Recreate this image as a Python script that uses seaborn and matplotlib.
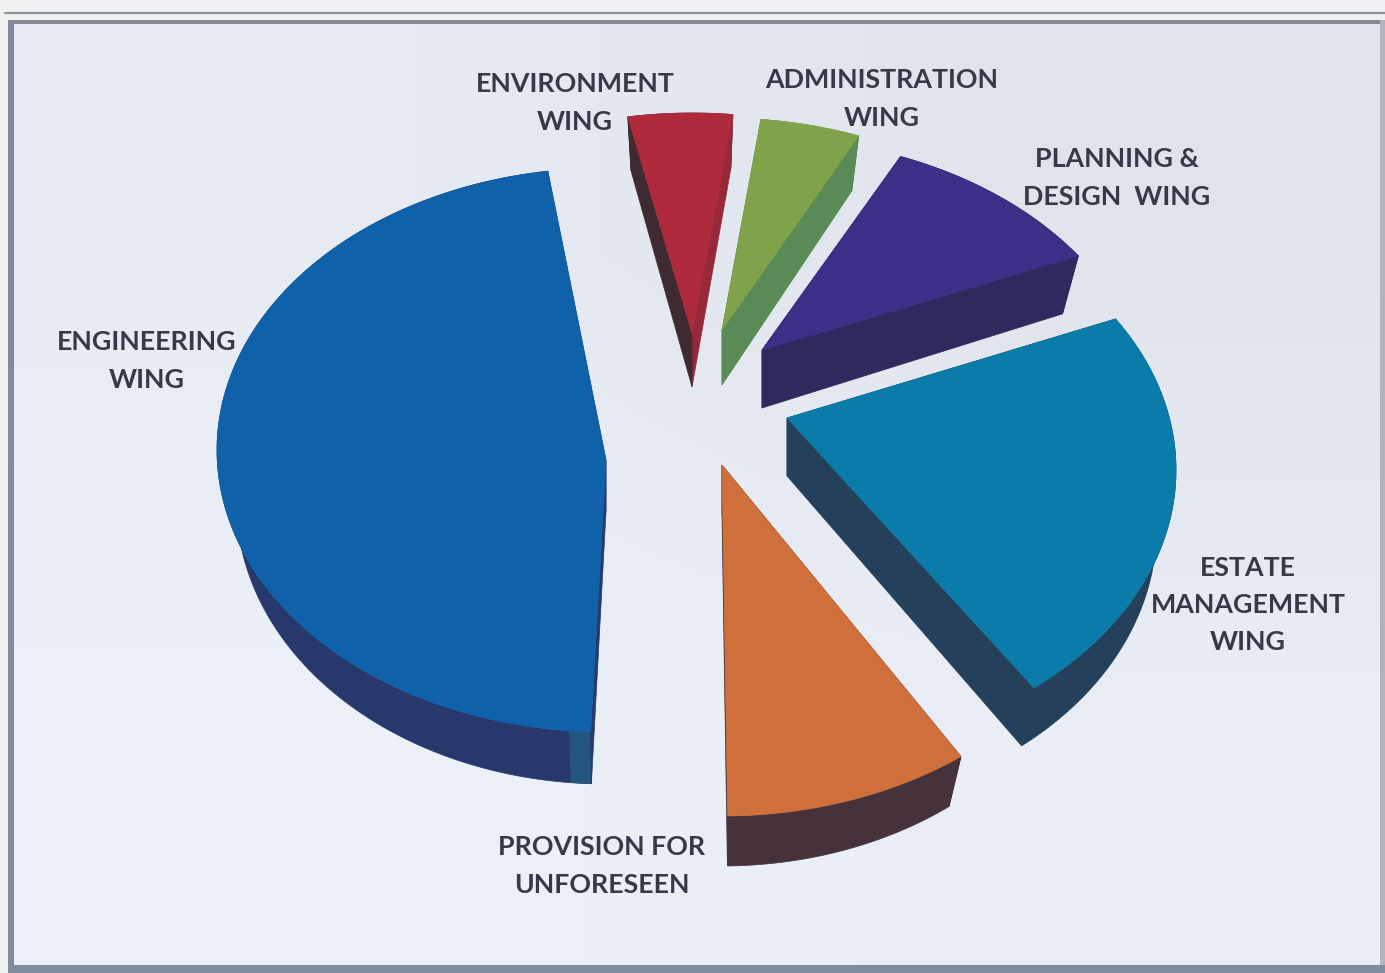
import numpy as np
import matplotlib
matplotlib.use("Agg")
import matplotlib.pyplot as plt
from matplotlib.patches import Polygon, Rectangle
import seaborn as sns

# Budget share per wing, clockwise from the top of the pie
wings = ["ENVIRONMENT\nWING", "ADMINISTRATION\nWING", "PLANNING &\nDESIGN  WING",
         "ESTATE\nMANAGEMENT\nWING", "PROVISION FOR\nUNFORESEEN", "ENGINEERING\nWING"]
shares = [4.4, 4.2, 9.5, 23.5, 10.5, 47.9]

top_colors = ["#B02A3E", "#7FA24A", "#3C2F87", "#0B7BA9", "#CF703C", "#0F62A9"]
side_colors = ["#3F2A32", "#5A8A55", "#2E2A5F", "#25405A", "#46323A", "#27396C"]
far_side_colors = ["#96283A", "#5A8A55", "#2E2A5F", "#25405A", "#46323A", "#27396C"]
rim_accents = [None, None, None, None, None, "#24557F"]
sns.set_theme(style="white", palette=sns.color_palette(top_colors))
plt.rcParams["font.family"] = ["Lato", "DejaVu Sans"]

# Wedge layout in pixels
start_angle = -9.5
angle_gaps = [-0.3, 0.3, 3.2, 1.5, 3.1, -0.9]
radius_x, radius_y = 389, 282
centres = [(692, 395), (722, 400), (762, 420), (787, 470), (722, 534), (606, 450)]
apex_lift = [62, 70, 70, 52, 69, -10]
depths = [54, 55, 58, 58, 50, 52]
rim_taper = 0.95
accent_span = 3.0

label_pos = [(575, 103), (882, 99), (1117, 178), (1248, 605), (602, 866), (147, 361)]

fig = plt.figure(figsize=(13.85, 9.73), dpi=100)
ax = fig.add_axes([0, 0, 1, 1])

# Paper, panel gradient and frame
ax.add_patch(Rectangle((0, 0), 1385, 973, fc="#EFF1F1", ec="none", zorder=0))
shade = np.array([[0.93, 0.90], [0.95, 0.94]])
ax.imshow(np.dstack([shade - 0.025, shade - 0.008, shade + 0.025]).clip(0, 1),
          extent=(8, 1382, 966, 20), interpolation="bilinear", aspect="auto", zorder=1)
ax.set_xlim(0, 1385)
ax.set_ylim(973, 0)
ax.axis("off")
ax.plot([5, 1385], [13, 13], color="#8E949C", lw=1.6, zorder=2)
frame_bands = [((8, 20), 1374, 4, "#868B95"), ((8, 20), 6, 946, "#808C9E"),
               ((1380, 20), 5, 946, "#AEB3BE"), ((8, 965), 1377, 8, "#7F8C9E")]
for xy, w, h, color in frame_bands:
    ax.add_patch(Rectangle(xy, w, h, fc=color, ec="none", zorder=2))

total = sum(shares)
span_total = 360 - sum(angle_gaps)
theta0 = start_angle
for i, share in enumerate(shares):
    span = share / total * span_total
    theta = np.radians(np.linspace(theta0, theta0 + span, 160))
    cx, cy = centres[i]
    arc_x = cx + radius_x * np.sin(theta)
    arc_y = cy - radius_y * np.cos(theta)

    top_x = np.r_[cx, arc_x]
    top_y = np.r_[cy - apex_lift[i], arc_y]
    low_x = cx + (top_x - cx) * rim_taper
    low_y = top_y + depths[i]

    # Rim first, then the radial walls, with the top face over both
    rim = np.c_[np.r_[top_x[1:], low_x[:0:-1]], np.r_[top_y[1:], low_y[:0:-1]]]
    ax.add_patch(Polygon(rim, fc=side_colors[i], ec=side_colors[i], lw=0.5, zorder=3))
    if rim_accents[i]:
        m = int(np.ceil(accent_span / span * 159)) + 1
        strip = np.c_[np.r_[top_x[1:m + 1], low_x[m:0:-1]], np.r_[top_y[1:m + 1], low_y[m:0:-1]]]
        ax.add_patch(Polygon(strip, fc=rim_accents[i], ec="none", zorder=3))
    n = len(top_x)
    for a, b, color in [(n - 1, 0, far_side_colors[i]), (0, 1, side_colors[i])]:
        wall = [(top_x[a], top_y[a]), (top_x[b], top_y[b]), (low_x[b], low_y[b]), (low_x[a], low_y[a])]
        ax.add_patch(Polygon(wall, fc=color, ec=color, lw=0.5, zorder=3))
    ax.add_patch(Polygon(np.c_[top_x, top_y], fc=top_colors[i], ec=top_colors[i], lw=0.5, zorder=4))

    theta0 += span + angle_gaps[i]

for name, (x, y) in zip(wings, label_pos):
    ax.text(x, y, name, ha="center", va="center", fontsize=19.3, fontweight="bold",
            color="#343A48", linespacing=1.66, zorder=5)

fig.savefig("out.png", dpi=100)
